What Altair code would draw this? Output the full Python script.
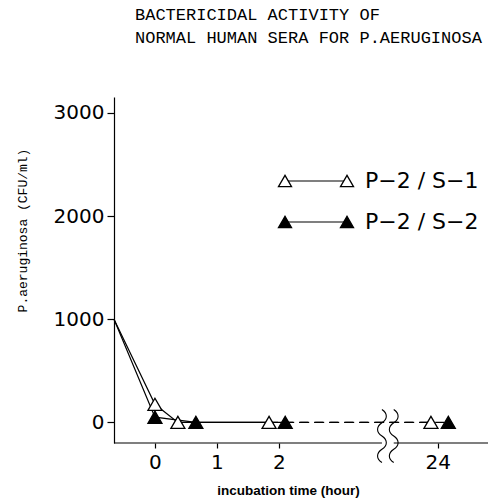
import altair as alt
import pandas as pd

# ---- data (x in display units: hours 0-2 linear, 24 h placed after axis break) ----
series_names = ["P-2/S-1", "P-2/S-2"]
x_open = [-0.66, 0.0, 0.37, 1.84, 4.45]
y_open = [1000, 175, 0, 0, 0]
x_filled = [-0.66, 0.0, 0.66, 2.10, 4.73]
y_filled = [1000, 50, 0, 0, 0]
has_marker = [False, True, True, True, True]

tick_positions = [0, 1, 2, 4.56]
tick_labels = ["0", "1", "2", "24"]
y_ticks = [0, 1000, 2000, 3000]
break_x = [3.66, 3.85]

title_lines = ["BACTERICIDAL ACTIVITY OF", "NORMAL HUMAN SERA FOR P.AERUGINOSA"]
legend_labels = ["P\u22122 / S\u22121", "P\u22122 / S\u22122"]

X_DOMAIN = [-0.66, 5.37]
Y_DOMAIN = [-200, 3155]

# ---- build tables ----
rows = []
for name, xs, ys in [(series_names[0], x_open, y_open), (series_names[1], x_filled, y_filled)]:
    for i, (x, y) in enumerate(zip(xs, ys)):
        if i <= 3:
            rows.append({"series": name, "seg": "solid", "x": x, "y": y, "order": i})
        if i >= 3:
            rows.append({"series": name, "seg": "dashed", "x": x, "y": y, "order": i})
lines_df = pd.DataFrame(rows)

pts = []
for name, xs, ys in [(series_names[0], x_open, y_open), (series_names[1], x_filled, y_filled)]:
    for x, y, m in zip(xs, ys, has_marker):
        if m:
            pts.append({"series": name, "x": x, "y": y})
pts_df = pd.DataFrame(pts)

label_expr = "".join(
    f"datum.value == {p} ? '{l}' : " for p, l in zip(tick_positions, tick_labels)
) + "''"

xscale = alt.Scale(domain=X_DOMAIN, nice=False, zero=False)
yscale = alt.Scale(domain=Y_DOMAIN, nice=False, zero=False)

base_x = alt.X(
    "x:Q", scale=xscale,
    axis=alt.Axis(
        values=tick_positions, labelExpr=label_expr, grid=False, domain=False,
        tickSize=5, tickColor="black", tickWidth=1.2, labelFontSize=20,
        labelFont="DejaVu Sans", labelColor="black", labelPadding=4,
        title="incubation time (hour)", titleFont="Liberation Sans",
        titleFontSize=13.5, titleFontWeight="bold", titleColor="black",
        titleX=174, titleY=40, titleAnchor="start", titleAlign="center",
    ),
)
base_y = alt.Y(
    "y:Q", scale=yscale,
    axis=alt.Axis(
        values=y_ticks, format="d", grid=False, domainColor="black", domainWidth=1.2,
        tickSize=7, tickColor="black", tickWidth=1.2, labelFontSize=20,
        labelFont="DejaVu Sans", labelColor="black", labelPadding=3,
        title="P.aeruginosa (CFU/ml)", titleFont="Liberation Mono",
        titleFontSize=13, titleFontWeight="normal", titleColor="black",
        titleX=-92, titleY=133, titleAngle=-90, titleAlign="center",
        titleBaseline="middle",
    ),
)

solid = alt.Chart(lines_df[lines_df.seg == "solid"]).mark_line(
    color="black", strokeWidth=1.2
).encode(x=base_x, y=base_y, detail="series:N", order="order:Q")

dashed = alt.Chart(lines_df[lines_df.seg == "dashed"]).mark_line(
    color="black", strokeWidth=1.2, strokeDash=[9, 6]
).encode(x="x:Q", y="y:Q", detail="series:N", order="order:Q")

points = alt.Chart(pts_df).mark_point(
    shape="triangle-up", filled=True, size=196, stroke="black", strokeWidth=1.3, opacity=1
).encode(
    x="x:Q", y="y:Q",
    fill=alt.Fill("series:N", scale=alt.Scale(domain=series_names, range=["white", "black"]), legend=None),
)

# broken x-axis baseline
axis_df = pd.DataFrame({"x": [X_DOMAIN[0], break_x[1]], "x2": [break_x[0], X_DOMAIN[1]]})
axis_line = alt.Chart(axis_df).mark_rule(color="black", strokeWidth=1.2).encode(
    x="x:Q", x2="x2:Q", y=alt.value(346)
)

wave_path = ("M0,-1 C0.22,-0.85 0.22,-0.65 0,-0.5 C-0.22,-0.35 -0.22,-0.15 0,0 "
             "C0.22,0.15 0.22,0.35 0,0.5 C-0.22,0.65 -0.22,0.85 0,1")
waves = alt.Chart(pd.DataFrame({"x": break_x})).mark_point(
    shape=wave_path, filled=False, stroke="black", strokeWidth=1.1, size=2809, opacity=1
).encode(x="x:Q", y=alt.value(339))

# legend
leg_df = pd.DataFrame({
    "series": series_names, "label": legend_labels, "ypix": [84, 125],
})
leg_line = alt.Chart(leg_df).mark_rule(color="black", strokeWidth=1.2).encode(
    x=alt.value(171), x2=alt.value(233), y=alt.Y("ypix:Q", scale=None)
)
leg_pts_df = pd.DataFrame({
    "series": series_names * 2, "xpix": [171, 171, 233, 233], "ypix": [84, 125, 84, 125],
})
leg_pts = alt.Chart(leg_pts_df).mark_point(
    shape="triangle-up", filled=True, size=170, stroke="black", strokeWidth=1.3, opacity=1
).encode(
    x=alt.X("xpix:Q", scale=None), y=alt.Y("ypix:Q", scale=None),
    fill=alt.Fill("series:N", scale=alt.Scale(domain=series_names, range=["white", "black"]), legend=None),
)
leg_text = alt.Chart(leg_df).mark_text(
    align="left", baseline="middle", font="DejaVu Sans", fontSize=22, color="black"
).encode(x=alt.value(251), y=alt.Y("ypix:Q", scale=None), text="label:N")

# title
title_df = pd.DataFrame({"text": title_lines, "ypix": [-77, -54]})
title = alt.Chart(title_df).mark_text(
    align="left", baseline="alphabetic", font="Liberation Mono", fontSize=17, color="black"
).encode(x=alt.value(21), y=alt.Y("ypix:Q", scale=None), text="text:N")

chart = alt.layer(
    solid, dashed, axis_line, waves, points, leg_line, leg_pts, leg_text, title
).properties(
    width=374, height=346,
    autosize=alt.AutoSizeParams(type="none"),
    padding={"left": 114, "top": 97, "right": 0, "bottom": 56},
    background="white",
).configure_view(stroke=None)

chart.save("out.html", embed_options={"renderer": "svg", "actions": False})
